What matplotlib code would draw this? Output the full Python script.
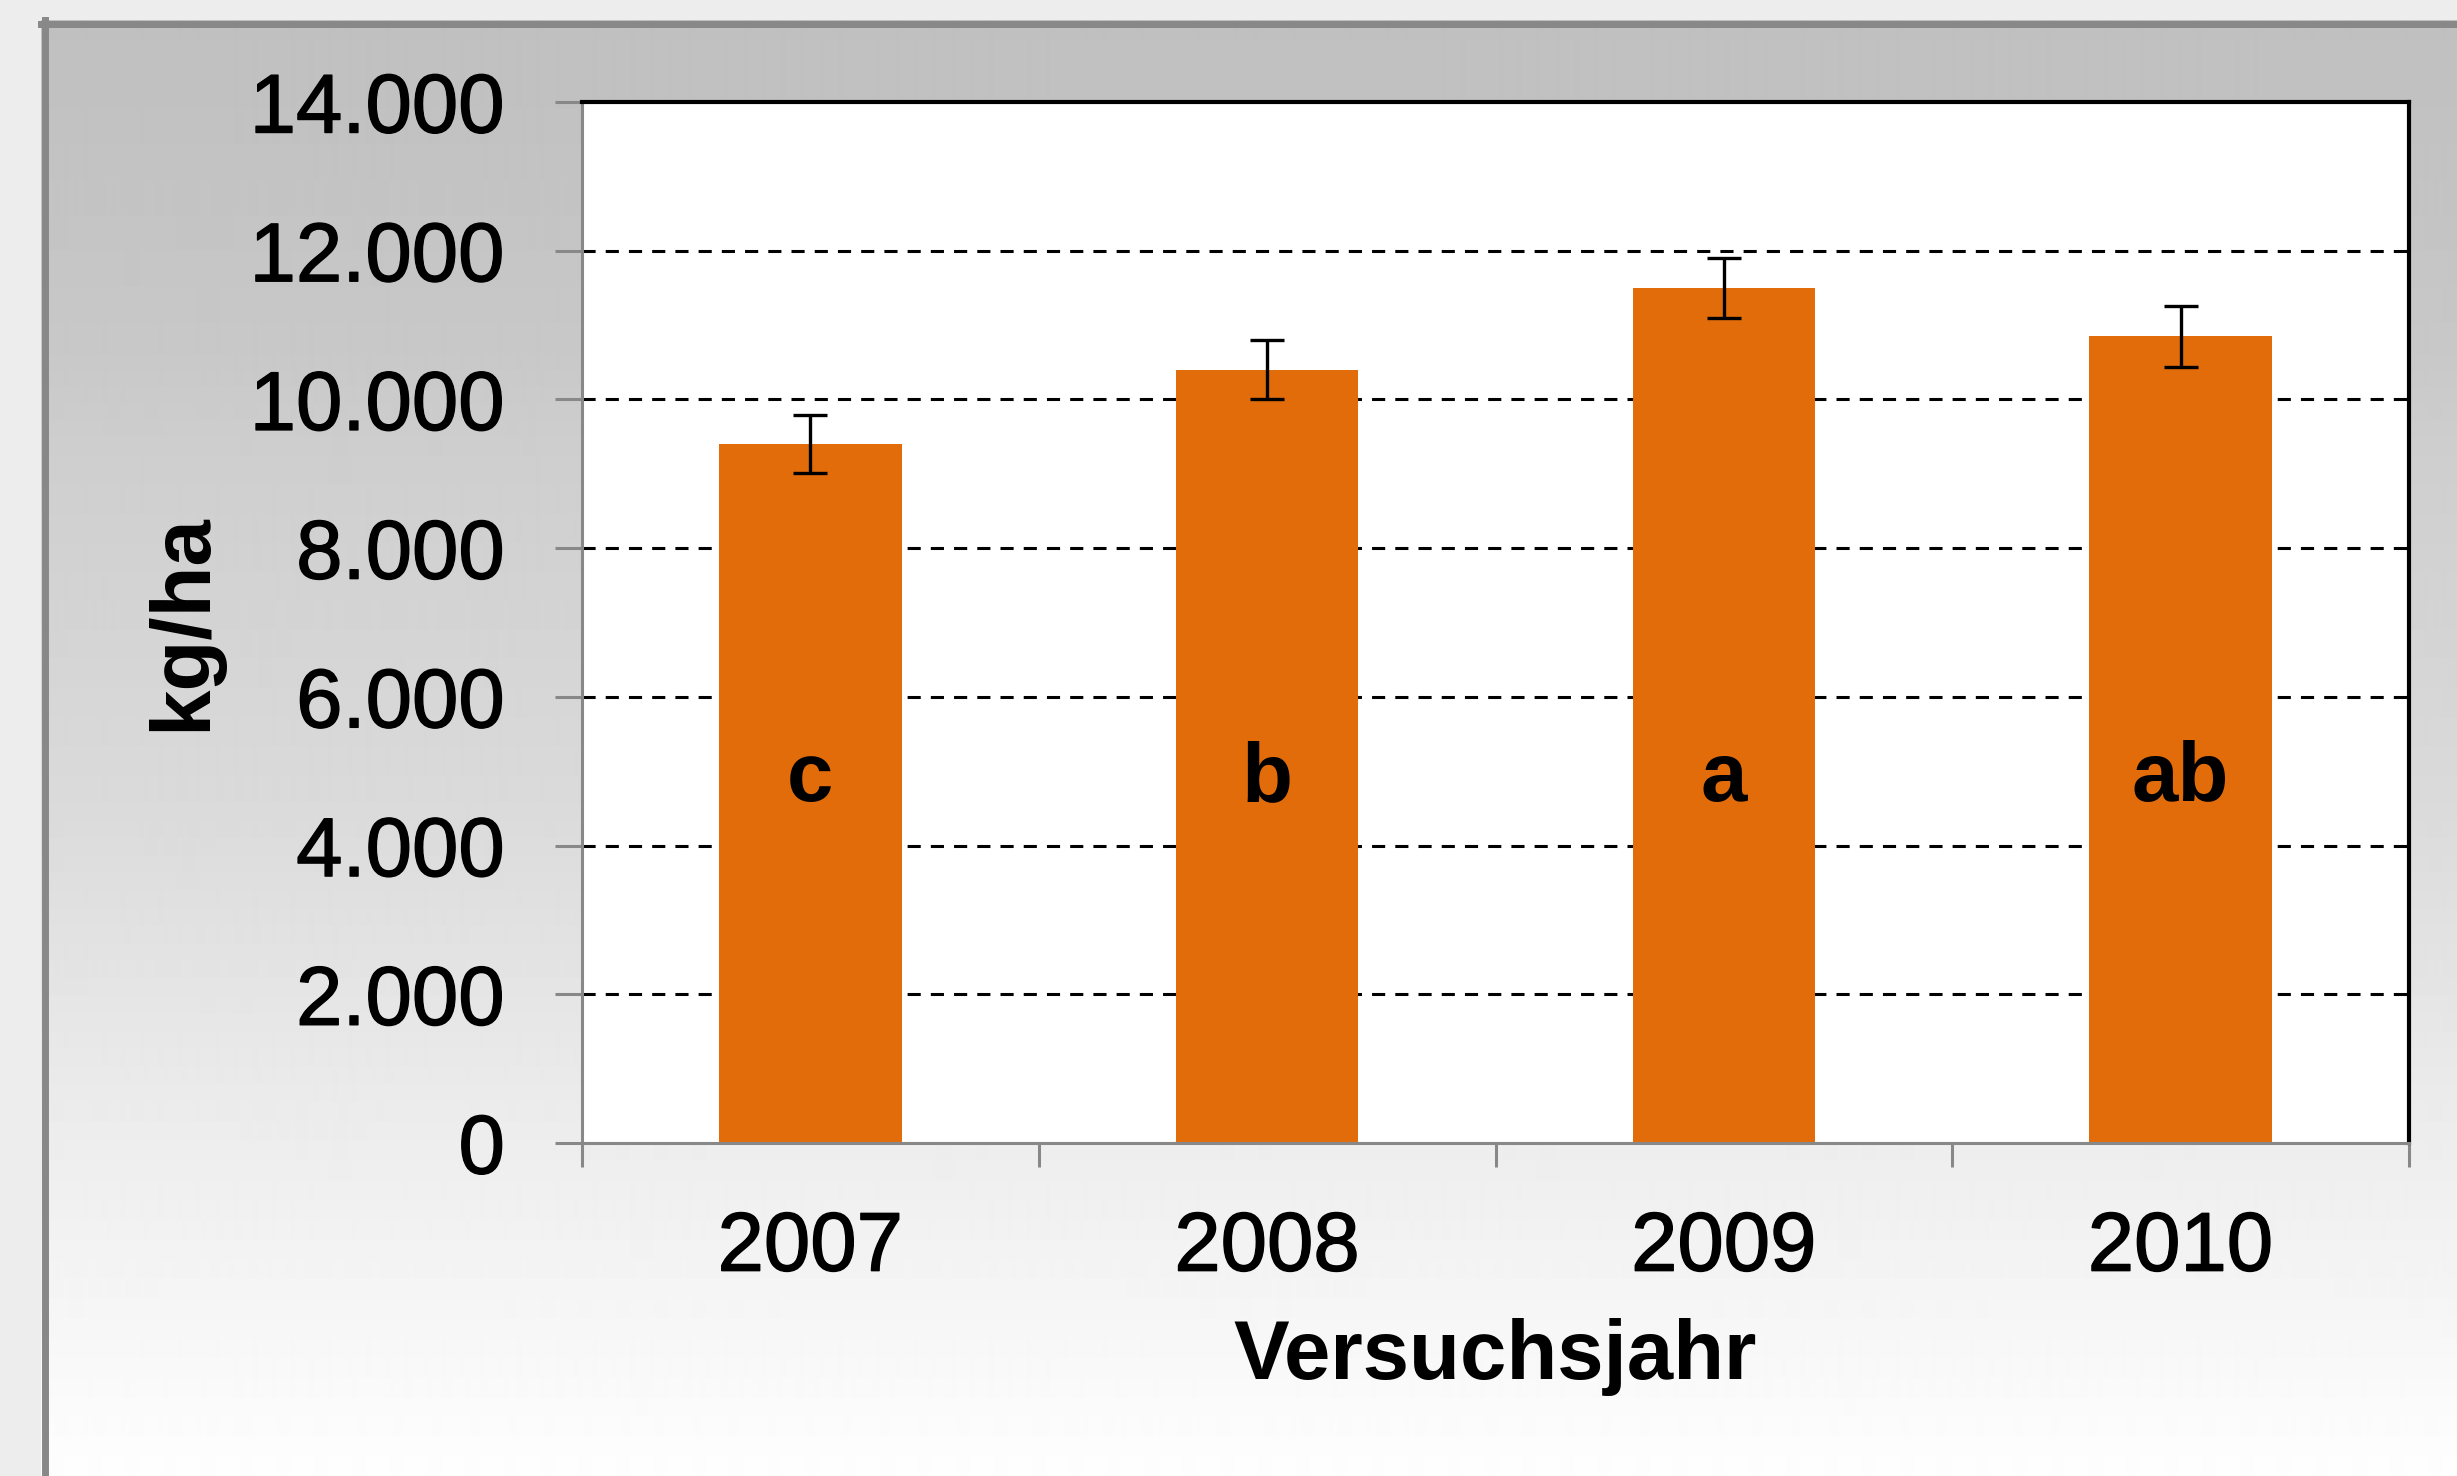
import numpy as np
import matplotlib
matplotlib.use("Agg")
import matplotlib.pyplot as plt
import matplotlib.patheffects as pe
from matplotlib.lines import Line2D
from matplotlib.ticker import FuncFormatter

# data
years = ["2007", "2008", "2009", "2010"]
yield_kg_ha = [9400, 10400, 11500, 10850]
yield_err = [390, 395, 400, 410]
letters = ["c", "b", "a", "ab"]
y_ticks = [0, 2000, 4000, 6000, 8000, 10000, 12000, 14000]
grid_levels = [2000, 4000, 6000, 8000, 10000, 12000]

BAR_COLOR = "#E36C0A"
AXIS_GRAY = "#888888"
FS = 60
THICK = [pe.withStroke(linewidth=1.0, foreground="black")]

plt.rcParams["font.family"] = ["Liberation Sans", "DejaVu Sans"]

W, H = 2457, 1476
fig = plt.figure(figsize=(W / 100, H / 100), dpi=100, facecolor="#ededed")

# framed chart area with vertical gray->white gradient
fx0, fy_top = 41 / W, 1 - 20 / H
bg = fig.add_axes([fx0, 0, 1 - fx0, fy_top], zorder=-5)
rows = np.arange(20, H)
shade = np.interp(rows, [20, 100, 350, 450, 800, 1100, 1476],
                  [192, 193, 200, 206, 218, 235, 254]) / 255.0
bg.imshow(np.repeat(shade[:, None], 2, axis=1), cmap="gray", vmin=0, vmax=1,
          aspect="auto", extent=[0, 1, 0, 1], interpolation="bilinear")
bg.set_axis_off()
fig.add_artist(Line2D([fx0 + 3.5 / W, fx0 + 3.5 / W], [0, fy_top],
                      transform=fig.transFigure, color=AXIS_GRAY, lw=5))
fig.add_artist(Line2D([fx0, 1], [fy_top - 3.5 / H, fy_top - 3.5 / H],
                      transform=fig.transFigure, color=AXIS_GRAY, lw=5))

ax = fig.add_axes([582 / W, (H - 1143) / H, (2409 - 582) / W, (1143 - 102) / H])
ax.set_facecolor("white")
x = np.arange(len(years))

for lvl in grid_levels:
    ax.axhline(lvl, color="black", lw=2.2, ls=(0, (4.3, 3.3)), zorder=1)

ax.bar(x, yield_kg_ha, width=0.4, color=BAR_COLOR, zorder=2)
ax.errorbar(x, yield_kg_ha, yerr=yield_err, fmt="none", ecolor="black",
            elinewidth=2.4, capsize=12, capthick=2.4, zorder=3)

for xi, lab in zip(x, letters):
    ax.text(xi, 4600, lab, ha="center", va="baseline", fontsize=FS,
            fontweight="bold", zorder=4)

ax.set_xlim(-0.5, len(years) - 0.5)
ax.set_ylim(0, 14000)

ax.set_yticks(y_ticks)
ax.yaxis.set_major_formatter(FuncFormatter(lambda v, p: f"{int(v):,}".replace(",", ".")))
ax.tick_params(axis="y", direction="out", length=19.5, width=2.2, color=AXIS_GRAY,
               labelsize=FS, pad=36)

ax.set_xticks(np.arange(-0.5, len(years)))
ax.set_xticklabels([])
ax.set_xticks(x, minor=True)
ax.set_xticklabels(years, minor=True)
ax.tick_params(axis="x", which="major", direction="out", length=17, width=2.2,
               color=AXIS_GRAY)
ax.tick_params(axis="x", which="minor", length=0, labelsize=FS, pad=48)

for t in ax.get_yticklabels() + ax.get_xticklabels(minor=True):
    t.set_path_effects(THICK)

for side in ("left", "bottom"):
    ax.spines[side].set_color(AXIS_GRAY)
    ax.spines[side].set_linewidth(2.2)
for side in ("top", "right"):
    ax.spines[side].set_color("black")
    ax.spines[side].set_linewidth(3)

ax.set_ylabel("kg/ha", fontsize=FS, fontweight="bold")
ax.yaxis.set_label_coords(-0.197, 0.5)
ax.set_xlabel("Versuchsjahr", fontsize=FS, fontweight="bold")
ax.xaxis.set_label_coords(0.5, -0.168)

fig.savefig("out.png", dpi=100, facecolor=fig.get_facecolor())
